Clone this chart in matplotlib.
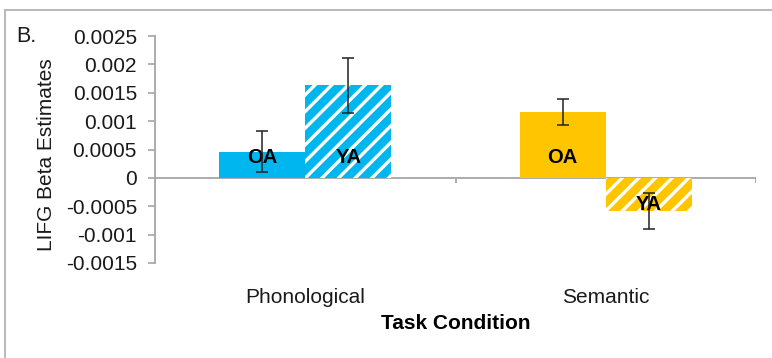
import matplotlib
matplotlib.use("Agg")
import matplotlib.pyplot as plt
from matplotlib.lines import Line2D
import numpy as np

plt.rcParams['font.family'] = ['Liberation Sans', 'DejaVu Sans']
plt.rcParams['hatch.linewidth'] = 2.4

# Data
conditions = ["Phonological", "Semantic"]
groups = ["OA", "YA"]
oa_values = [0.00046, 0.00116]
ya_values = [0.00163, -0.00058]
oa_errors = [0.00036, 0.00023]
ya_errors = [0.00048, 0.00032]
bar_colors = ["#00B6EE", "#FFC600"]
y_ticks = [-0.0015, -0.001, -0.0005, 0, 0.0005, 0.001, 0.0015, 0.002, 0.0025]
y_tick_labels = ["-0.0015", "-0.001", "-0.0005", "0", "0.0005", "0.001", "0.0015", "0.002", "0.0025"]

fig = plt.figure(figsize=(7.72, 3.58), dpi=100)
ax = fig.add_axes([155 / 772, 1 - 263 / 358, (756 - 155) / 772, (263 - 36) / 358])

x = np.arange(len(conditions))
w = 0.287
gray = "#A6A6A6"

for i in range(len(conditions)):
    # solid bar for older adults
    ax.bar(x[i] - w / 2, oa_values[i], w, color=bar_colors[i], linewidth=0, zorder=2)
    # striped bar for young adults
    ax.bar(x[i] + w / 2, ya_values[i], w, facecolor=bar_colors[i], edgecolor="white",
           hatch="//", linewidth=0, zorder=2)
    for xpos, val, lab in ((x[i] - w / 2, oa_values[i], groups[0]),
                           (x[i] + w / 2, ya_values[i], groups[1])):
        off = 15 if val >= 0 else -19
        ax.annotate(lab, (xpos, 0), xytext=(0, off), textcoords="offset points",
                    ha="center", va="center", fontsize=14.5, fontweight="bold",
                    color="black", zorder=4)

ax.errorbar(x - w / 2, oa_values, yerr=oa_errors, fmt="none", ecolor="#222222",
            elinewidth=1.1, capsize=4, capthick=1.1, zorder=5)
ax.errorbar(x + w / 2, ya_values, yerr=ya_errors, fmt="none", ecolor="#222222",
            elinewidth=1.1, capsize=4, capthick=1.1, zorder=5)

# zero line with category boundary ticks
ax.axhline(0, color=gray, lw=1.3, zorder=1)
ax.vlines([-0.5, 0.5, 1.5], -0.00009, 0, color=gray, lw=1.3, zorder=1)

ax.set_xlim(-0.5, 1.5)
ax.set_ylim(-0.0015, 0.0025)
ax.set_yticks(y_ticks)
ax.set_yticklabels(y_tick_labels)
ax.set_xticks(x)
ax.set_xticklabels(conditions)
ax.tick_params(axis="x", length=0, pad=18, labelsize=15, colors="#1a1a1a")
ax.tick_params(axis="y", length=5, width=1.2, color=gray, pad=8, labelsize=15,
               labelcolor="#1a1a1a")

for s in ("top", "right", "bottom"):
    ax.spines[s].set_visible(False)
ax.spines["left"].set_color(gray)
ax.spines["left"].set_linewidth(1.3)

ax.set_xlabel("Task Condition", fontsize=15, fontweight="bold", labelpad=5)
fig.text(47 / 772, 1 - 155 / 358, "LIFG Beta Estimates", rotation=90,
         ha="center", va="center", fontsize=15, color="#1a1a1a")
fig.text(16 / 772, 1 - 36 / 358, "B.", ha="left", va="center", fontsize=15.5,
         color="#1a1a1a")

# outer panel frame (top and left edges)
fig.add_artist(Line2D([5 / 772, 1], [1 - 10 / 358, 1 - 10 / 358],
                      transform=fig.transFigure, color="#BBBBBB", lw=1.5))
fig.add_artist(Line2D([5 / 772, 5 / 772], [0, 1 - 10 / 358],
                      transform=fig.transFigure, color="#BBBBBB", lw=1.5))

fig.savefig("out.png", dpi=100)
